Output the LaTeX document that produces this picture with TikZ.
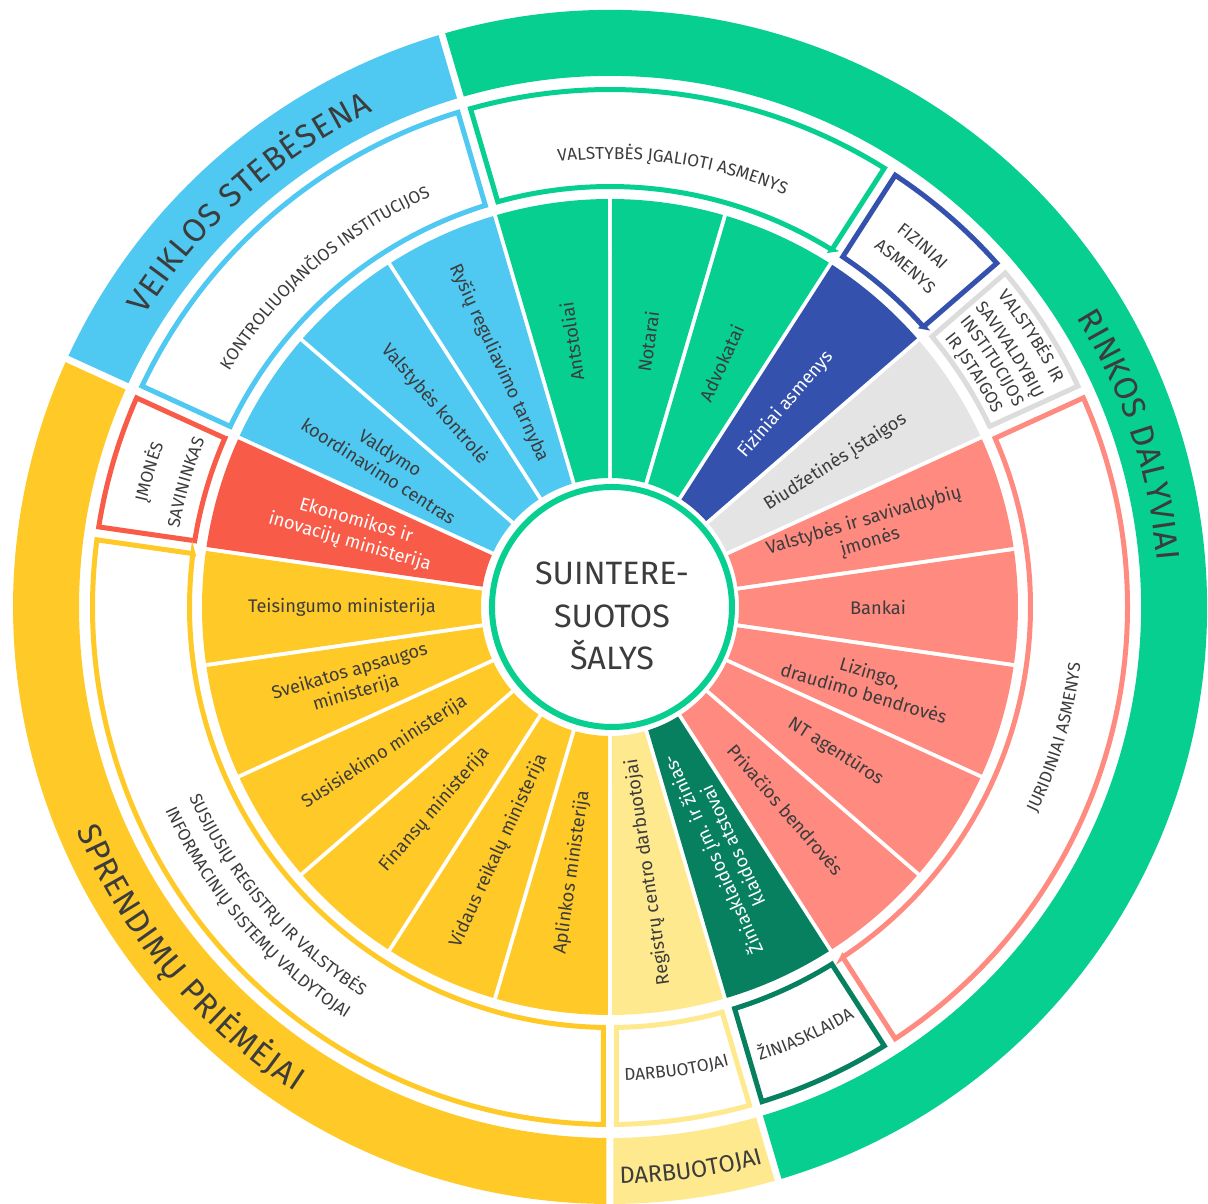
\documentclass[tikz,border=0pt]{standalone}
\usepackage{fontspec}
\setmainfont{Fira Sans}
\usetikzlibrary{decorations.text}

\definecolor{grn}{HTML}{06CF8F}
\definecolor{blu}{HTML}{4FC9F2}
\definecolor{yel}{HTML}{FFCA28}
\definecolor{lyel}{HTML}{FFE98E}
\definecolor{dblu}{HTML}{3451AD}
\definecolor{gry}{HTML}{E4E4E4}
\definecolor{lgry}{HTML}{DCDCDC}
\definecolor{salm}{HTML}{FF8A80}
\definecolor{rd}{HTML}{F85B48}
\definecolor{dgrn}{HTML}{07805F}
\definecolor{txt}{HTML}{3C3C3C}

\newcommand{\ringfont}{\fontsize{9.3}{11}\selectfont\color{txt}}
\newcommand{\lowfont}{\fontsize{6.7}{8}\selectfont\color{txt}}
\newcommand{\boxfont}{\fontsize{4.9}{6}\selectfont\color{txt}}
\newcommand{\ringpart}[6]{%
  \pgfmathsetmacro\secA{#1+asin(#5/#3)}%
  \pgfmathsetmacro\secB{#2-asin(#5/#3)}%
  \pgfmathsetmacro\secC{#1+asin(#5/#4)}%
  \pgfmathsetmacro\secD{#2-asin(#5/#4)}%
  \path[#6] (\secA:#3) -- (\secC:#4) arc[start angle=\secC, end angle=\secD, radius=#4]
    -- (\secB:#3) arc[start angle=\secB, end angle=\secA, radius=#3] -- cycle;}

\tikzset{
  wlabel/.style={align=center, inner sep=0pt, font=\fontsize{5.2}{6.3}\selectfont},
  ringtext/.style={decorate, decoration={text along path, text align={fit to path}, text={|\ringfont|#1}}},
  lowtext/.style={decorate, decoration={text along path, text align=center, text={|\lowfont|#1}}},
  boxtext/.style={decorate, decoration={text along path, text align=center, text={|\boxfont|#1}}},
}

\begin{document}
\begin{tikzpicture}
  \useasboundingbox (-6.10,-5.97) rectangle (5.98,6.07);
  \def\s{16.3636}

  % outer ring
  \foreach \a/\b/\c in {-73.64/106.36/grn, 106.36/155.45/blu, 155.45/270/yel, 270/286.36/lyel}
    \ringpart{\a}{\b}{5.31}{5.97}{0.035}{fill=\c};
  \path[ringtext={VEIKLOS STEBĖSENA}] (147.9:5.49) arc[start angle=147.9, end angle=115.5, radius=5.49];
  \path[ringtext={RINKOS DALYVIAI}] (31.8:5.49) arc[start angle=31.8, end angle=4.8, radius=5.49];
  \path[ringtext={SPRENDIMŲ PRIĖMĖJAI}] (202.7:5.78) arc[start angle=202.7, end angle=237, radius=5.78];
  \path[lowtext={DARBUOTOJAI}] (-90:5.77) arc[start angle=-90, end angle=-73.64, radius=5.77];

  % middle ring
  \foreach \a/\b/\c in {-90/-73.64/lyel, -73.64/-57.27/dgrn, -57.27/24.55/salm, 24.55/40.91/lgry,
      40.91/57.27/dblu, 57.27/106.36/grn, 106.36/155.45/blu, 155.45/171.82/rd, 171.82/270/yel}
    \ringpart{\a}{\b}{4.205}{5.175}{0.065}{draw=\c, line width=0.05cm};
  \path[boxtext={VALSTYBĖS ĮGALIOTI ASMENYS}] (106.36:4.48) arc[start angle=106.36, end angle=57.27, radius=4.48];
  \path[boxtext={KONTROLIUOJANČIOS INSTITUCIJOS}] (155.45:4.48) arc[start angle=155.45, end angle=106.36, radius=4.48];
  \path[boxtext={ĮMONĖS}] (171.82:4.75) arc[start angle=171.82, end angle=155.45, radius=4.75];
  \path[boxtext={SAVININKAS}] (171.82:4.38) arc[start angle=171.82, end angle=155.45, radius=4.38];
  \path[boxtext={FIZINIAI}] (57.27:4.72) arc[start angle=57.27, end angle=40.91, radius=4.72];
  \path[boxtext={ASMENYS}] (57.27:4.46) arc[start angle=57.27, end angle=40.91, radius=4.46];
  \path[boxtext={VALSTYBĖS IR}] (40.91:4.97) arc[start angle=40.91, end angle=24.55, radius=4.97];
  \path[boxtext={SAVIVALDYBIŲ}] (40.91:4.72) arc[start angle=40.91, end angle=24.55, radius=4.72];
  \path[boxtext={INSTITUCIJOS}] (40.91:4.51) arc[start angle=40.91, end angle=24.55, radius=4.51];
  \path[boxtext={IR ĮSTAIGOS}] (40.91:4.29) arc[start angle=40.91, end angle=24.55, radius=4.29];
  \path[boxtext={JURIDINIAI ASMENYS}] (-57.27:4.74) arc[start angle=-57.27, end angle=24.55, radius=4.74];
  \path[boxtext={ŽINIASKLAIDA}] (-73.64:4.78) arc[start angle=-73.64, end angle=-57.27, radius=4.78];
  \path[boxtext={DARBUOTOJAI}] (-90:4.74) arc[start angle=-90, end angle=-73.64, radius=4.74];
  \path[boxtext={SUSIJUSIŲ REGISTRŲ IR VALSTYBĖS}] (171.82:4.62) arc[start angle=171.82, end angle=270, radius=4.62];
  \path[boxtext={INFORMACINIŲ SISTEMŲ VALDYTOJAI}] (171.82:4.89) arc[start angle=171.82, end angle=270, radius=4.89];

  % wedges
  \foreach \c/\t/\f/\l [count=\i from 0] in {
      lyel/txt/180/{Registrų centro darbuotojai},
      dgrn/white/180/{Žiniasklaidos įm. ir žinias-\\klaidos atstovai},
      salm/txt/0/{Privačios bendrovės},
      salm/txt/0/{NT agentūros},
      salm/txt/0/{Lizingo,\\draudimo bendrovės},
      salm/txt/0/{Bankai},
      salm/txt/0/{Valstybės ir savivaldybių\\įmonės},
      gry/txt/0/{Biudžetinės įstaigos},
      dblu/white/0/{Fiziniai asmenys},
      grn/txt/0/{Advokatai},
      grn/txt/0/{Notarai},
      grn/txt/0/{Antstoliai},
      blu/txt/180/{Ryšių reguliavimo tarnyba},
      blu/txt/180/{Valstybės kontrolė},
      blu/txt/180/{Valdymo\\koordinavimo centras},
      rd/white/180/{Ekonomikos ir\\inovacijų ministerija},
      yel/txt/180/{Teisingumo ministerija},
      yel/txt/180/{Sveikatos apsaugos\\ministerija},
      yel/txt/180/{Susisiekimo ministerija},
      yel/txt/180/{Finansų ministerija},
      yel/txt/180/{Vidaus reikalų ministerija},
      yel/txt/180/{Aplinkos ministerija}} {
    \ringpart{-90+\i*\s}{-90+(\i+1)*\s}{1.29}{4.08}{0.02}{fill=\c};
    \pgfmathsetmacro\m{-90+(\i+0.5)*\s}
    \node[wlabel, text=\t, rotate=\m+\f] (wedge\i) at (\m:2.68) {\l};
  }

  % centre
  \node[circle, draw=grn, line width=0.06cm, fill=white, minimum size=2.4cm] (centre) at (0.02,0) {};
  \node[align=center, text=txt, font=\fontsize{9.2}{12}\selectfont] (centretext) at ([yshift=-0.09cm]centre) {SUINTERE-\\SUOTOS\\ŠALYS};
\end{tikzpicture}
\end{document}
